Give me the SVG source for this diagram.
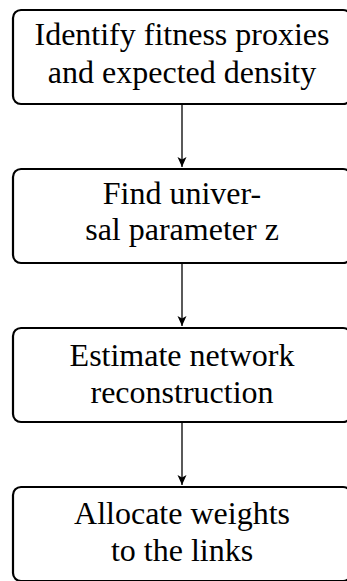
<svg xmlns="http://www.w3.org/2000/svg" width="347" height="581" viewBox="0 0 347 581">
<style>
.box{fill:#fff;stroke:#000;stroke-width:2.2}
.t{font-family:"Liberation Serif","Times New Roman",Times,Tinos,"Nimbus Roman","DejaVu Serif","Noto Serif",serif;font-size:32px;fill:#000;text-anchor:middle}
.c{stroke:#000;stroke-width:1.3;fill:none}
</style>
<defs>
<marker id="ah" markerUnits="userSpaceOnUse" markerWidth="12" markerHeight="12" refX="10" refY="6" orient="auto">
<path d="M0,1.5 L10,6 L0,10.5 L2.5,6 Z" fill="#000"/>
</marker>
</defs>
<g id="connectors">
<line class="c" x1="182" y1="105" x2="182" y2="167" marker-end="url(#ah)"/>
<line class="c" x1="182" y1="264" x2="182" y2="326" marker-end="url(#ah)"/>
<line class="c" x1="182" y1="423" x2="182" y2="485" marker-end="url(#ah)"/>
</g>
<g id="n1">
<rect class="box" x="13" y="10" width="338" height="94" rx="8"/>
<text class="t" x="182" y="45">Identify fitness proxies</text>
<text class="t" x="182" y="83">and expected density</text>
</g>
<g id="n2">
<rect class="box" x="13" y="169" width="338" height="94" rx="8"/>
<text class="t" x="182" y="204">Find univer-</text>
<text class="t" x="182" y="240">sal parameter z</text>
</g>
<g id="n3">
<rect class="box" x="13" y="328" width="338" height="94" rx="8"/>
<text class="t" x="182" y="366">Estimate network</text>
<text class="t" x="182" y="403">reconstruction</text>
</g>
<g id="n4">
<rect class="box" x="13" y="487" width="338" height="94" rx="8"/>
<text class="t" x="182" y="524">Allocate weights</text>
<text class="t" x="182" y="561">to the links</text>
</g>
</svg>
